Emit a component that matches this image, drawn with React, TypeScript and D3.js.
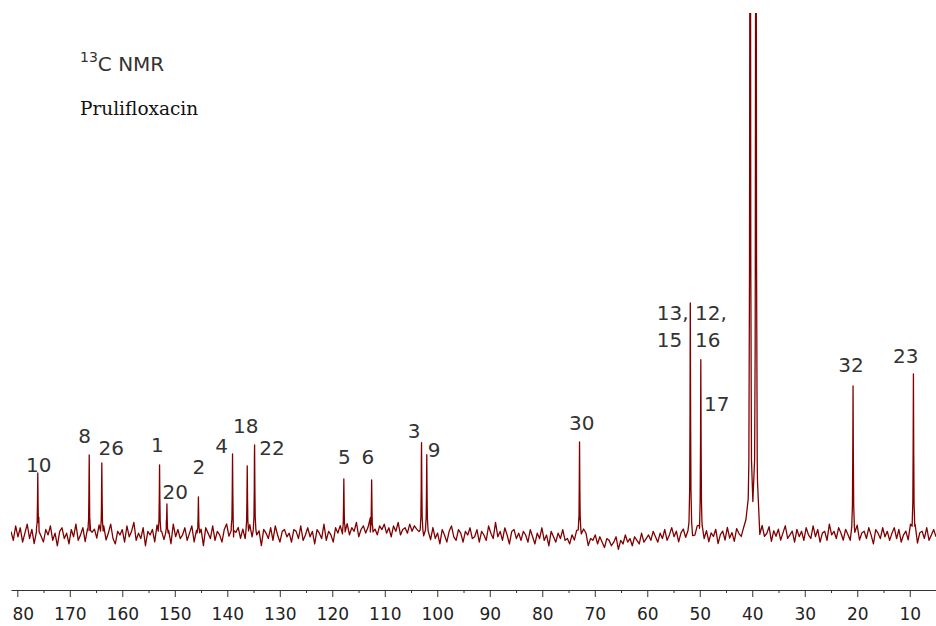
import React, { useEffect, useRef } from "react";
import * as d3 from "d3";

// 13C NMR spectrum of prulifloxacin (DMSO-d6)

const ppmStart = 181.2;
const ppmEnd = 5.0;

// peak positions (ppm), intensities and half widths
const peakShifts = [176.1, 166.3, 163.9, 152.9, 151.5, 145.5, 139.0, 136.2, 134.8, 117.8, 112.5, 103.0, 102.0, 72.9, 51.8, 49.8, 40.4, 39.3, 20.8, 9.3];
const peakHeights = [62, 80, 72, 70, 31, 38, 81, 69, 90, 56, 55, 92, 80, 93, 232, 175, 1800, 1800, 149, 161];
const peakWidths = [0.06, 0.06, 0.06, 0.06, 0.06, 0.06, 0.06, 0.06, 0.06, 0.06, 0.06, 0.06, 0.06, 0.06, 0.06, 0.06, 0.05, 0.05, 0.06, 0.06];

// baseline noise, read left to right across the spectrum
const baselineNoise = [
  2, -3, 5, -1, 4, -4, 1, 6, -2, 3, -5, 2, 7, -1, -4, 3, 0, 5, -3, 1,
  -6, 2, 4, -2, 1, -5, 3, -1, 6, -3, 0, 4, -4, 2, -7, 1, 3, -2, 5, -1,
  4, -3, 1, 6, -2, -5, 2, 0, 3, -4, 5, -1, 2, 7, -3, 1, -2, 4, -6, 2,
  0, 3, -4, 5, -2, 1, -3, 4, 2, -5, 6, -1, 3, -2, 0, 4, -3, 1, 5, -4,
  2, -1, 3, -6, 4, 1, -2, 5, -3, 2, 0, -4, 3, 6, -1, 2, -5, 1, 4, -2,
  3, -3, 0, 5, -2, 4, -1, 2, -6, 3, 1, -2, 4, -3, 5, 0, -4, 2, 3, -1,
  1, -4, 3, 2, -2, 5, -3, 0, 4, -1, 2, -5, 3, 1, -2, 6, -3, 2, 0, -4,
  4, 1, 5, -1, 3, 6, 0, 4, 2, 7, -1, 3, 5, 1, 4, 8, 2, 3, 0, 5,
  3, 6, 1, 4, -1, 5, 2, 7, 0, 3, 4, 1, 6, 2, 5, 3, 1, 4, -2, 2,
  0, -3, 4, -2, 1, -5, 3, 0, -4, 2, 5, -1, -3, 3, 1, -4, 2, 0, 4, -2,
  -1, 3, -4, 2, 0, -3, 5, 1, -2, 7, -1, 2, -3, 4, 0, -5, 2, 3, -2, 1,
  -3, 2, 0, -4, 3, -1, -5, 1, -2, 4, -3, 0, -6, 2, -1, -4, 1, -2, 3, -3,
  -2, -5, 0, -3, 2, -4, -1, 3, 1, -6, -2, -3, 0, -5, -1, -4, -7, -2, -3, -6,
  -4, -1, -8, -3, -5, 0, -4, -2, -6, -1, -3, -5, 1, -4, -2, 0, -3, 2, -1, -4,
  1, -2, 3, -3, 0, 4, -1, 2, -4, 1, 3, -2, 0, 2, -3, -1, 4, -2, 1, -3,
  2, -4, 1, -1, 3, -5, 0, 2, -3, 4, -2, 1, -4, 3, 0, -2, 2, 4, 1, 3,
  2, -3, 1, -5, 3, -2, 0, 4, -4, 2, -1, 3, -3, 1, 5, -2, 0, 2, -4, 3,
  -1, 2, -3, 4, 0, -2, 5, -1, 3, -4, 1, 2, -3, 6, 0, 2, -2, 4, 1, -3,
  3, 0, -4, 2, -1, 5, -3, 1, 2, -2, 4, 0, -5, 3, 1, -2, 4, -1, 2, -3,
  1, 4, -2, 3, -4, 0, 2, -3, 5, -1, 3, -5, 1, 2, -2, 4, -3, 0, 3, -1,
];
const noiseGain = 1.8;

// peak labels: text, position (ppm), level (intensity), anchor
const labelTexts = ["10", "8", "26", "1", "20", "2", "4", "18", "22", "5", "6", "3", "9", "30", "13,", "15", "12,", "16", "17", "32", "23"];
const labelShifts = [175.9, 167.2, 162.1, 153.3, 149.9, 145.4, 141.1, 136.5, 131.5, 117.7, 113.2, 104.4, 100.6, 72.5, 58.2, 58.2, 50.9, 50.9, 49.2, 21.2, 10.75];
const labelLevels = [63, 92, 80, 83, 36, 61, 82, 102, 80, 71, 71, 97, 78, 105, 215, 188, 215, 188, 124, 163, 172];
const labelAnchors = ["middle", "middle", "middle", "middle", "middle", "middle", "middle", "middle", "middle", "middle", "middle", "middle", "middle", "middle", "start", "start", "start", "start", "start", "middle", "middle"];

const majorTicks = [180, 170, 160, 150, 140, 130, 120, 110, 100, 90, 80, 70, 60, 50, 40, 30, 20, 10];
const minorTicks = [175, 165, 155, 145, 135, 125, 115, 105, 95, 85, 75, 65, 55, 45, 35, 25, 15, 5];

const sampleOffsets = [-0.25, -0.12, -0.06, 0, 0.06, 0.12, 0.25];

export default function App() {
  const ref = useRef<SVGSVGElement>(null);

  useEffect(() => {
    const svg = d3.select(ref.current);
    svg.selectAll("*").remove();

    const x = d3.scaleLinear().domain([ppmStart, ppmEnd]).range([11, 936]);
    const y = d3.scaleLinear().domain([0, 522]).range([535, 13]);

    const defs = svg.append("defs");
    defs.append("clipPath").attr("id", "plotClip")
      .append("rect").attr("x", 11).attr("y", 13).attr("width", 925).attr("height", 560);
    defs.append("clipPath").attr("id", "axisClip")
      .append("rect").attr("x", 11).attr("y", 575).attr("width", 925).attr("height", 51);

    // sample points: the noise grid plus a few points around every peak
    const step = (ppmStart - ppmEnd) / (baselineNoise.length - 1);
    const pts: { ppm: number; noise: number }[] = baselineNoise.map((n, i) => ({ ppm: ppmStart - i * step, noise: n }));
    peakShifts.forEach((p) => {
      sampleOffsets.forEach((o) => {
        pts.push({ ppm: p + o, noise: 0 });
      });
    });
    pts.sort((a, b) => b.ppm - a.ppm);

    const intensity = (d: { ppm: number; noise: number }) => {
      let v = d.noise * noiseGain;
      peakShifts.forEach((p, i) => {
        const w = peakWidths[i];
        v += (peakHeights[i] * w * w) / ((d.ppm - p) * (d.ppm - p) + w * w);
      });
      return v;
    };

    const line = d3.line<{ ppm: number; noise: number }>()
      .x((d) => x(d.ppm))
      .y((d) => Math.max(-50, y(intensity(d))));

    svg.append("path")
      .datum(pts)
      .attr("clip-path", "url(#plotClip)")
      .attr("d", line)
      .attr("fill", "none")
      .attr("stroke", "#800000")
      .attr("stroke-width", 1.3)
      .attr("stroke-linejoin", "round");

    // peak labels
    svg.append("g")
      .selectAll("text")
      .data(labelTexts)
      .enter()
      .append("text")
      .attr("x", (d, i) => x(labelShifts[i]))
      .attr("y", (d, i) => y(labelLevels[i]))
      .attr("text-anchor", (d, i) => labelAnchors[i])
      .attr("font-family", "DejaVu Sans")
      .attr("font-size", 20)
      .attr("fill", "#333")
      .text((d) => d);

    // axis
    const axisG = svg.append("g").attr("clip-path", "url(#axisClip)");
    const ax = axisG.append("g")
      .attr("transform", "translate(0,590)")
      .call(d3.axisBottom(x).tickValues(majorTicks).tickSize(7).tickSizeOuter(0).tickFormat(d3.format("d")));
    ax.select(".domain").attr("stroke", "#333");
    ax.selectAll(".tick line").attr("stroke", "#333");
    ax.selectAll(".tick text")
      .attr("y", 18)
      .attr("font-family", "DejaVu Sans")
      .attr("font-size", 17)
      .attr("fill", "#222");
    const minor = axisG.append("g")
      .attr("transform", "translate(0,590)")
      .call(d3.axisBottom(x).tickValues(minorTicks).tickSize(3).tickFormat(() => ""));
    minor.select(".domain").remove();
    minor.selectAll(".tick line").attr("stroke", "#333");

    // titles
    const t = svg.append("text")
      .attr("x", 80)
      .attr("y", 71)
      .attr("font-family", "DejaVu Sans")
      .attr("font-size", 20)
      .attr("fill", "#333");
    t.append("tspan").attr("font-size", 14).attr("dy", -9).text("13");
    t.append("tspan").attr("dy", 9).text("C NMR");

    svg.append("text")
      .attr("x", 80)
      .attr("y", 115)
      .attr("font-family", "DejaVu Serif")
      .attr("font-size", 18.5)
      .attr("fill", "#111")
      .text("Prulifloxacin");
  }, []);

  return (
    <svg ref={ref} width={936} height={626} style={{ position: "absolute", left: 0, top: 0, background: "#fff" }} />
  );
}
